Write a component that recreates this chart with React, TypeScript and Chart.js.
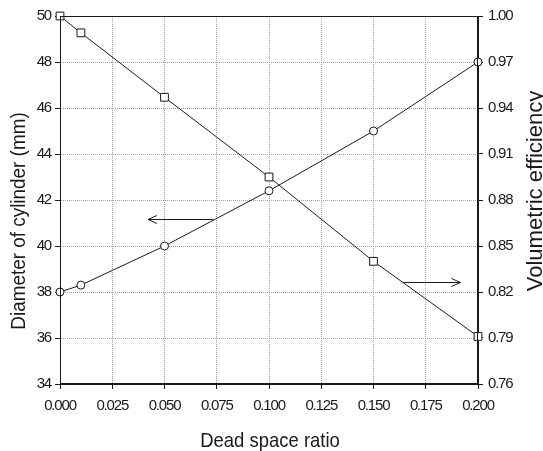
import React, { useEffect, useRef } from 'react';
import { Chart, registerables } from 'chart.js';

Chart.register(...registerables);

const deadSpaceRatio = [0, 0.01, 0.05, 0.1, 0.15, 0.2];
const diameter = [38.0, 38.3, 40.0, 42.4, 45.0, 48.0];
const volumetricEfficiency = [1.0, 0.989, 0.947, 0.895, 0.84, 0.791];

const xTicks = [0, 0.025, 0.05, 0.075, 0.1, 0.125, 0.15, 0.175, 0.2];
const leftTicks = [34, 36, 38, 40, 42, 44, 46, 48, 50];
const rightTicks = [0.76, 0.79, 0.82, 0.85, 0.88, 0.91, 0.94, 0.97, 1.0];

// annotation arrows (data coordinates)
const leftArrowX = [0.0733, 0.0421];
const leftArrowY = 41.17;
const rightArrowX = [0.1643, 0.1916];
const rightArrowY = 0.8267;

const xTitle = 'Dead space ratio';
const leftTitle = 'Diameter of cylinder (mm)';
const rightTitle = 'Volumetric efficiency';

const FONT = "'Liberation Sans', Arial, sans-serif";
const INK = '#1a1a1a';

const drawSquashed = (ctx: any, text: string, x: number, y: number, rot: number, size: number, sx: number) => {
  ctx.save();
  ctx.translate(x, y);
  ctx.rotate(rot);
  ctx.scale(sx, 1);
  ctx.font = `${size}px ${FONT}`;
  ctx.textAlign = 'center';
  ctx.textBaseline = 'alphabetic';
  ctx.letterSpacing = '0px';
  ctx.fillText(text, 0, 0);
  ctx.restore();
};

const decorPlugin = {
  id: 'decor',
  beforeDraw(chart: any) {
    chart.ctx.letterSpacing = '-1.2px';
  },
  afterDraw(chart: any) {
    const { ctx, chartArea, scales } = chart;
    const { left, right, top, bottom } = chartArea;
    ctx.save();
    ctx.strokeStyle = INK;
    ctx.lineWidth = 1;
    ctx.strokeRect(Math.round(left) + 0.5, Math.round(top) + 0.5, Math.round(right - left) - 1, Math.round(bottom - top) - 1);

    const drawArrow = (x0: number, x1: number, y: number) => {
      const yy = Math.round(y) + 0.5;
      ctx.beginPath();
      ctx.moveTo(x0, yy);
      ctx.lineTo(x1, yy);
      const dir = x1 > x0 ? 1 : -1;
      ctx.moveTo(x1 - dir * 9, yy - 4);
      ctx.lineTo(x1, yy);
      ctx.lineTo(x1 - dir * 9, yy + 4);
      ctx.stroke();
    };
    drawArrow(scales.x.getPixelForValue(leftArrowX[0]), scales.x.getPixelForValue(leftArrowX[1]), scales.y.getPixelForValue(leftArrowY));
    drawArrow(scales.x.getPixelForValue(rightArrowX[0]), scales.x.getPixelForValue(rightArrowX[1]), scales.y1.getPixelForValue(rightArrowY));

    ctx.fillStyle = INK;
    drawSquashed(ctx, xTitle, (left + right) / 2 + 1, 447, 0, 21, 0.88);
    drawSquashed(ctx, leftTitle, 25, 221, -Math.PI / 2, 21, 0.9);
    drawSquashed(ctx, rightTitle, 542, 191, -Math.PI / 2, 22.5, 0.98);

    ctx.restore();
  },
};

export default function App() {
  const ref = useRef<HTMLCanvasElement>(null);
  useEffect(() => {
    if (!ref.current) return;
    const tickFont = { family: FONT, size: 15 };
    const grid = { color: '#a0a0a0', tickColor: INK, tickLength: 5, lineWidth: 1 };
    const border = { color: INK, width: 1, dash: [1, 1] };
    const chart = new Chart(ref.current, {
      type: 'scatter',
      data: {
        datasets: [
          {
            label: leftTitle,
            data: deadSpaceRatio.map((x, i) => ({ x, y: diameter[i] })),
            yAxisID: 'y',
            showLine: true,
            clip: false,
            borderColor: INK,
            borderWidth: 1,
            pointStyle: 'circle',
            pointRadius: 4,
            pointBackgroundColor: '#fff',
            pointBorderColor: INK,
            pointBorderWidth: 1,
          },
          {
            label: rightTitle,
            data: deadSpaceRatio.map((x, i) => ({ x, y: volumetricEfficiency[i] })),
            yAxisID: 'y1',
            showLine: true,
            clip: false,
            borderColor: INK,
            borderWidth: 1,
            pointStyle: 'rect',
            pointRadius: 5.5,
            pointBackgroundColor: '#fff',
            pointBorderColor: INK,
            pointBorderWidth: 1,
          },
        ],
      },
      options: {
        animation: false,
        responsive: false,
        layout: { padding: { top: 16, left: 0, right: 0, bottom: 0 } },
        plugins: { legend: { display: false }, tooltip: { enabled: false } },
        scales: {
          x: {
            type: 'linear',
            min: 0,
            max: 0.2,
            afterBuildTicks: (s: any) => { s.ticks = xTicks.map((v) => ({ value: v })); },
            afterFit: (s: any) => { s.height = 67; },
            ticks: { font: tickFont, color: INK, padding: 8, maxRotation: 0, autoSkip: false, callback: (v: any) => Number(v).toFixed(3) },
            grid,
            border,
          },
          y: {
            type: 'linear',
            position: 'left',
            min: 34,
            max: 50,
            afterBuildTicks: (s: any) => { s.ticks = leftTicks.map((v) => ({ value: v })); },
            afterFit: (s: any) => { s.width = 60; },
            ticks: { font: tickFont, color: INK, padding: 4, autoSkip: false, callback: (v: any) => String(v) },
            grid,
            border,
          },
          y1: {
            type: 'linear',
            position: 'right',
            min: 0.76,
            max: 1.0,
            afterBuildTicks: (s: any) => { s.ticks = rightTicks.map((v) => ({ value: v })); },
            afterFit: (s: any) => { s.width = 65; },
            ticks: { font: tickFont, color: INK, padding: 5, autoSkip: false, callback: (v: any) => Number(v).toFixed(2) },
            grid: { ...grid, drawOnChartArea: false },
            border,
          },
        },
      },
      plugins: [decorPlugin],
    });
    return () => chart.destroy();
  }, []);
  return (
    <div style={{ position: 'absolute', left: 0, top: 0, width: 543, height: 451, background: '#fff' }}>
      <canvas ref={ref} width={543} height={451} style={{ display: 'block' }} />
    </div>
  );
}
